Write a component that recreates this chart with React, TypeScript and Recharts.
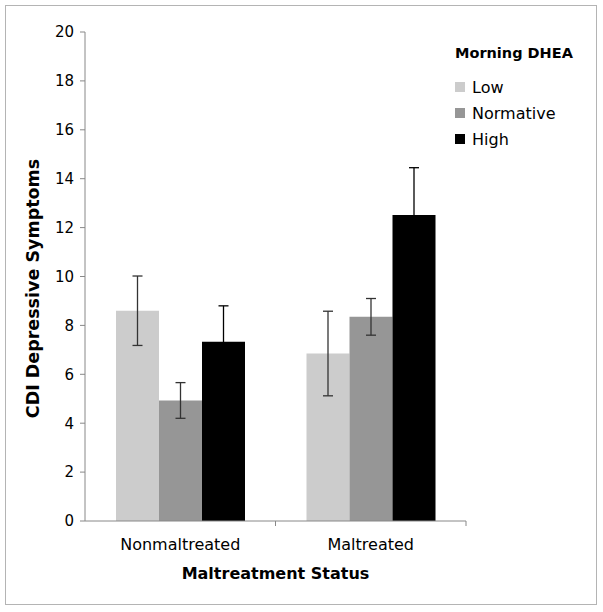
import React from 'react';
import { BarChart, Bar, XAxis, YAxis, ErrorBar, Legend } from 'recharts';

const categories = ['Nonmaltreated', 'Maltreated'];
const lowValues = [8.6, 6.85];
const normativeValues = [4.93, 8.35];
const highValues = [7.33, 12.52];
const lowErrors = [1.42, 1.73];
const normativeErrors = [0.73, 0.75];
const highErrors = [1.47, 1.93];
const yTicks = [0, 2, 4, 6, 8, 10, 12, 14, 16, 18, 20];
const seriesNames = ['Low', 'Normative', 'High'];
const seriesColors = ['#cccccc', '#969696', '#000000'];

const data = categories.map((c, i) => ({
  category: c,
  low: lowValues[i],
  normative: normativeValues[i],
  high: highValues[i],
  lowErr: lowErrors[i],
  normativeErr: normativeErrors[i],
  highErr: highErrors[i],
}));

const FONT = '"DejaVu Sans", Verdana, sans-serif';
const TICK_SIZE = 5;
const TICK_MARGIN = 13;

const LegendContent = () => (
  <div style={{ fontFamily: FONT, color: '#000' }}>
    <div style={{ fontWeight: 'bold', fontSize: 14.5, lineHeight: '18px', whiteSpace: 'nowrap' }}>Morning DHEA</div>
    <div style={{ height: 12 }} />
    {seriesNames.map((n, i) => (
      <div key={n} style={{ display: 'flex', alignItems: 'center', height: 26 }}>
        <div style={{ width: 10, height: 10, background: seriesColors[i], marginRight: 7 }} />
        <span style={{ fontSize: 16 }}>{n}</span>
      </div>
    ))}
  </div>
);

const YTitle = (props: any) => {
  const vb = props.viewBox || {};
  const cy = (vb.y || 0) + (vb.height || 0) / 2 + 12;
  const cx = 33;
  return (
    <text
      x={cx}
      y={cy}
      transform={`rotate(-90, ${cx}, ${cy})`}
      textAnchor="middle"
      dominantBaseline="central"
      style={{ fontWeight: 'bold', fontSize: 17.5, fill: '#000', fontFamily: FONT }}
    >
      CDI Depressive Symptoms
    </text>
  );
};

// category label plus a tick mark on the right boundary of each category band
const CategoryTick = (props: any) => {
  const { x, y, payload } = props;
  const axisY = y - TICK_SIZE - TICK_MARGIN;
  const half = payload && payload.offset ? payload.offset : 0;
  const bx = x + half;
  return (
    <g>
      <line x1={bx} y1={axisY} x2={bx} y2={axisY + TICK_SIZE} stroke="#888" />
      <text x={x} y={y} dy="0.71em" textAnchor="middle" fill="#000" fontSize={16} fontFamily={FONT}>
        {payload.value}
      </text>
    </g>
  );
};

export default function App() {
  return (
    <div style={{ position: 'absolute', left: 0, top: 0, width: 603, height: 612, fontFamily: FONT, background: '#fff' }}>
      <div style={{ position: 'absolute', left: 5, top: 5, width: 590, height: 598, border: '1px solid #b4b4b4' }} />
      <BarChart
        width={603}
        height={612}
        data={data}
        margin={{ top: 32, right: 137, bottom: 31, left: 0 }}
        barCategoryGap={31}
        barGap={0}
      >
        <XAxis
          dataKey="category"
          height={60}
          stroke="#888"
          tickLine={false}
          tickSize={TICK_SIZE}
          tickMargin={TICK_MARGIN}
          tick={<CategoryTick />}
          label={{ value: 'Maltreatment Status', position: 'insideBottom', offset: 2, style: { fontWeight: 'bold', fontSize: 16, fill: '#000' } }}
        />
        <YAxis
          width={85}
          domain={[0, 20]}
          ticks={yTicks}
          interval={0}
          stroke="#888"
          tickSize={5}
          tickMargin={6}
          tick={{ fill: '#000', fontSize: 15 }}
          label={<YTitle />}
        />
        <Legend
          layout="horizontal"
          verticalAlign="middle"
          align="center"
          content={<LegendContent />}
          wrapperStyle={{ left: 455, top: 44, width: 140 }}
        />
        <Bar dataKey="low" name="Low" fill={seriesColors[0]} isAnimationActive={false}>
          <ErrorBar dataKey="lowErr" width={5} stroke="#333" strokeWidth={1.3} isAnimationActive={false} />
        </Bar>
        <Bar dataKey="normative" name="Normative" fill={seriesColors[1]} isAnimationActive={false}>
          <ErrorBar dataKey="normativeErr" width={5} stroke="#333" strokeWidth={1.3} isAnimationActive={false} />
        </Bar>
        <Bar dataKey="high" name="High" fill={seriesColors[2]} isAnimationActive={false}>
          <ErrorBar dataKey="highErr" width={5} stroke="#000" strokeWidth={1.3} isAnimationActive={false} />
        </Bar>
      </BarChart>
    </div>
  );
}
